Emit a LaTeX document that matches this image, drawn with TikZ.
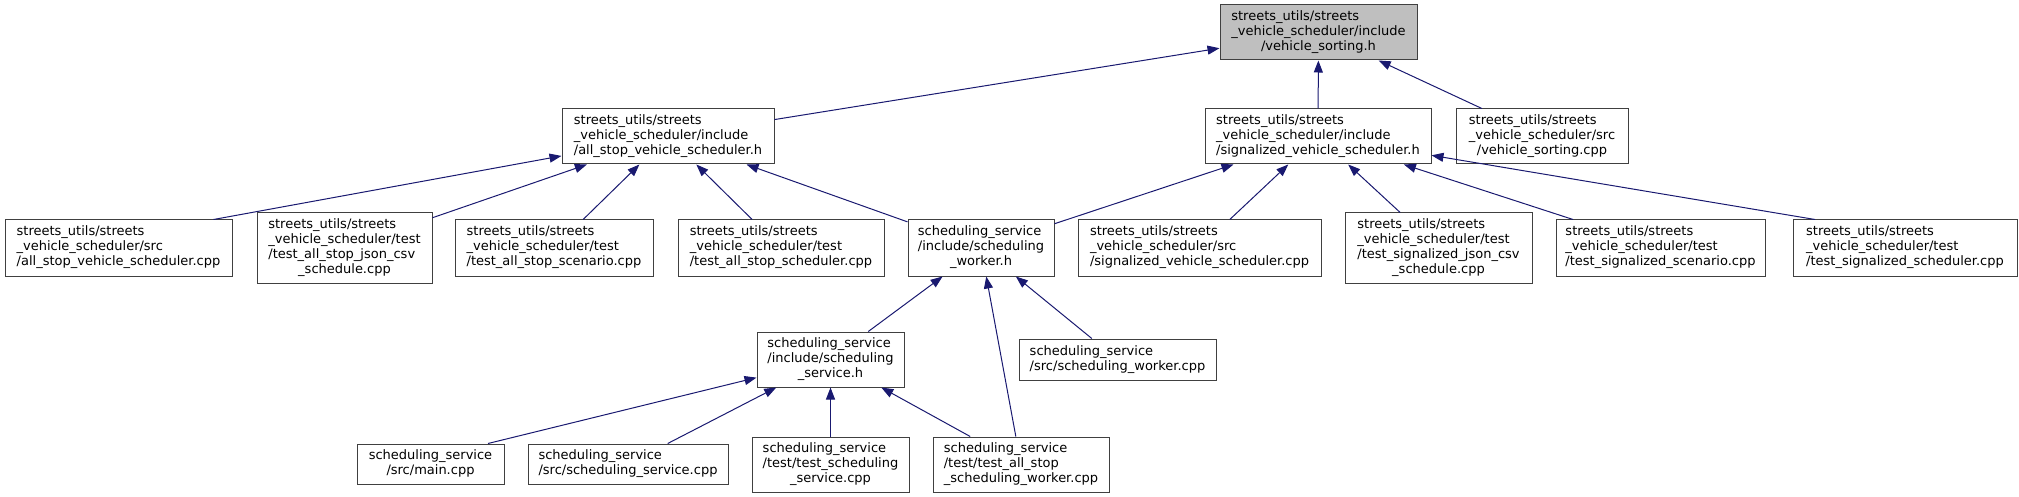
\documentclass[tikz,border=0pt]{standalone}
\usepackage{fontspec}
\setmainfont{DejaVu Sans}
\usetikzlibrary{arrows.meta}
\definecolor{incblue}{HTML}{191970}
\newcommand{\flbl}[2]{\begin{tabular}{@{}l@{}}#1\\\multicolumn{1}{@{}c@{}}{#2}\end{tabular}}

\begin{document}
\begin{tikzpicture}[x=1pt,y=-1pt,
  filebox/.style 2 args={draw=black!75,line width=1pt,fill=white,inner sep=0pt,
    minimum width=#1pt,minimum height=#2pt,font=\fontsize{13}{15}\selectfont},
  rootbox/.style={fill=black!25},
  incl/.style={draw=incblue,line width=1pt,-{Triangle[length=12pt,width=9pt]}}]
\useasboundingbox (0,0) rectangle (2019,497);

\node[filebox={197}{55},rootbox] (vs) at (1318.5,32.5)
  {\flbl{streets\_utils/streets\\\_vehicle\_scheduler/include}{/vehicle\_sorting.h}};

\node[filebox={212}{55}] (ah) at (668,136.5)
  {\flbl{streets\_utils/streets\\\_vehicle\_scheduler/include}{/all\_stop\_vehicle\_scheduler.h}};
\node[filebox={226}{55}] (sgh) at (1318,136.5)
  {\flbl{streets\_utils/streets\\\_vehicle\_scheduler/include}{/signalized\_vehicle\_scheduler.h}};
\node[filebox={172}{55}] (vc) at (1542,136.5)
  {\flbl{streets\_utils/streets\\\_vehicle\_scheduler/src}{/vehicle\_sorting.cpp}};

\node[filebox={227}{56}] (a1) at (118.5,248)
  {\flbl{streets\_utils/streets\\\_vehicle\_scheduler/src}{/all\_stop\_vehicle\_scheduler.cpp}};
\node[filebox={175}{70}] (a2) at (344.5,248)
  {\flbl{streets\_utils/streets\\\_vehicle\_scheduler/test\\/test\_all\_stop\_json\_csv}{\_schedule.cpp}};
\node[filebox={198}{56}] (a3) at (554,248)
  {\flbl{streets\_utils/streets\\\_vehicle\_scheduler/test}{/test\_all\_stop\_scenario.cpp}};
\node[filebox={206}{56}] (a4) at (781,248)
  {\flbl{streets\_utils/streets\\\_vehicle\_scheduler/test}{/test\_all\_stop\_scheduler.cpp}};
\node[filebox={146}{56}] (w) at (981,248)
  {\flbl{scheduling\_service\\/include/scheduling}{\_worker.h}};
\node[filebox={243}{56}] (s1) at (1199.5,248)
  {\flbl{streets\_utils/streets\\\_vehicle\_scheduler/src}{/signalized\_vehicle\_scheduler.cpp}};
\node[filebox={187}{70}] (s2) at (1438.5,248)
  {\flbl{streets\_utils/streets\\\_vehicle\_scheduler/test\\/test\_signalized\_json\_csv}{\_schedule.cpp}};
\node[filebox={209}{56}] (s3) at (1660.5,248)
  {\flbl{streets\_utils/streets\\\_vehicle\_scheduler/test}{/test\_signalized\_scenario.cpp}};
\node[filebox={224}{56}] (s4) at (1905,248)
  {\flbl{streets\_utils/streets\\\_vehicle\_scheduler/test}{/test\_signalized\_scheduler.cpp}};

\node[filebox={147}{55}] (sh) at (830.5,359.5)
  {\flbl{scheduling\_service\\/include/scheduling}{\_service.h}};
\node[filebox={197}{41}] (wc) at (1117.5,359.5)
  {\flbl{scheduling\_service}{/src/scheduling\_worker.cpp}};

\node[filebox={147}{40}] (m) at (430.5,464)
  {\flbl{scheduling\_service}{/src/main.cpp}};
\node[filebox={200}{40}] (ss) at (628,464)
  {\flbl{scheduling\_service}{/src/scheduling\_service.cpp}};
\node[filebox={157}{55}] (ts) at (830.5,464.5)
  {\flbl{scheduling\_service\\/test/test\_scheduling}{\_service.cpp}};
\node[filebox={176}{55}] (tw) at (1021,464.5)
  {\flbl{scheduling\_service\\/test/test\_all\_stop}{\_scheduling\_worker.cpp}};

\draw[incl] (ah) -- (vs);
\draw[incl] (sgh) -- (vs);
\draw[incl] (vc) -- (vs);
\draw[incl] ([xshift=95pt]a1.north) -- (ah);
\draw[incl] (a2) -- (ah);
\draw[incl] (a3) -- (ah);
\draw[incl] (a4) -- (ah);
\draw[incl] (w) -- (ah);
\draw[incl] (w) -- (sgh);
\draw[incl] (s1) -- (sgh);
\draw[incl] (s2) -- (sgh);
\draw[incl] (s3) -- (sgh);
\draw[incl] ([xshift=-90pt]s4.north) -- (sgh);
\draw[incl] (sh) -- (w);
\draw[incl] (tw) -- (w);
\draw[incl] (wc) -- (w);
\draw[incl] ([xshift=57.5pt]m.north) -- (sh);
\draw[incl] (ss) -- (sh);
\draw[incl] (ts) -- (sh);
\draw[incl] (tw) -- (sh);
\end{tikzpicture}
\end{document}
